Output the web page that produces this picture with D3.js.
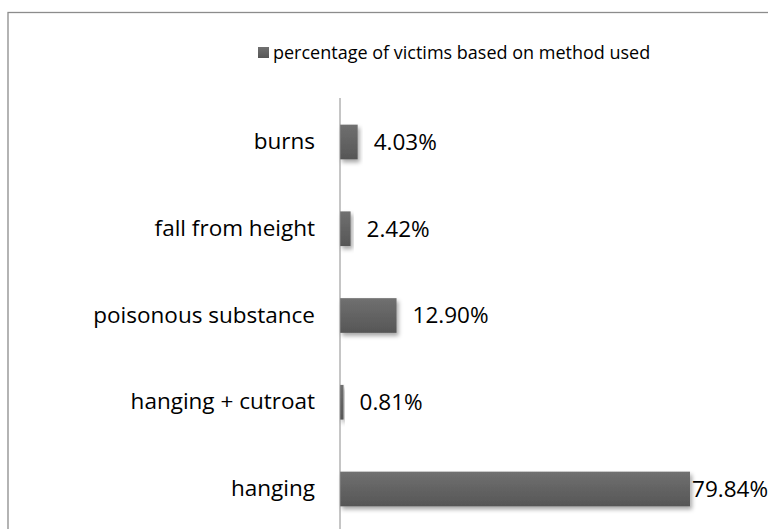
<!DOCTYPE html>
<html>
<head>
<meta charset="utf-8">
<script src="https://cdn.jsdelivr.net/npm/d3@7"></script>
<style>
  body { margin: 0; background: #fff; }
  text { font-family: "Open Sans", sans-serif; fill: #000; }
</style>
</head>
<body>
<svg id="chart" width="768" height="529"></svg>
<script>
// data, top to bottom
var categories = ["burns", "fall from height", "poisonous substance", "hanging + cutroat", "hanging"];
var values = [4.03, 2.42, 12.90, 0.81, 79.84];
var valueLabels = ["4.03%", "2.42%", "12.90%", "0.81%", "79.84%"];
var seriesName = "percentage of victims based on method used";

var width = 768, height = 529;
var svg = d3.select("#chart");

var defs = svg.append("defs");
var grad = defs.append("linearGradient").attr("id", "barGrad")
  .attr("x1", 0).attr("y1", 0).attr("x2", 0).attr("y2", 1);
grad.append("stop").attr("offset", "0%").attr("stop-color", "#707070");
grad.append("stop").attr("offset", "100%").attr("stop-color", "#565656");

var shadow = defs.append("filter").attr("id", "shadow")
  .attr("x", "-20%").attr("y", "-30%").attr("width", "150%").attr("height", "180%");
shadow.append("feDropShadow").attr("dx", 2).attr("dy", 3)
  .attr("stdDeviation", 2).attr("flood-color", "#000").attr("flood-opacity", 0.35);

// chart frame (runs off the right and bottom of the picture)
svg.append("rect")
  .attr("x", 8).attr("y", 12.5)
  .attr("width", 800).attr("height", 560)
  .attr("fill", "none").attr("stroke", "#8c8c8c").attr("stroke-width", 1.3);

var x = d3.scaleLinear().domain([0, 100]).range([340, 778.4]);
var y = d3.scaleBand().domain(categories).range([72.6, 558.4]).padding(0.6);

// legend
var legend = svg.append("g");
legend.append("rect")
  .attr("x", 258).attr("y", 47).attr("width", 11).attr("height", 11)
  .attr("fill", "url(#barGrad)");
legend.append("text")
  .attr("x", 273).attr("y", 53).attr("dy", "0.35em")
  .style("font-size", "18px")
  .text(seriesName);

// bars
svg.selectAll("rect.bar")
  .data(values)
  .enter().append("rect")
  .attr("class", "bar")
  .attr("x", x(0))
  .attr("y", (d, i) => y(categories[i]))
  .attr("width", d => x(d) - x(0))
  .attr("height", y.bandwidth())
  .attr("fill", "url(#barGrad)")
  .attr("filter", "url(#shadow)");

// vertical axis
var yAxis = d3.axisLeft(y).tickSize(0).tickPadding(25);
var gAxis = svg.append("g")
  .attr("transform", `translate(${x(0)},0)`)
  .call(yAxis);
gAxis.select(".domain").remove();
gAxis.selectAll("text")
  .style("font-size", "22.5px")
  .style("font-family", "'Open Sans', sans-serif")
  .attr("fill", "#000");
svg.append("line")
  .attr("x1", x(0)).attr("x2", x(0))
  .attr("y1", 98).attr("y2", height)
  .attr("stroke", "#8c8c8c").attr("stroke-width", 1);

// value labels, pulled back when they would run off the edge
svg.selectAll("text.val")
  .data(values)
  .enter().append("text")
  .attr("class", "val")
  .attr("y", (d, i) => y(categories[i]) + y.bandwidth() / 2)
  .attr("dy", "0.35em")
  .style("font-size", "22.5px")
  .text((d, i) => valueLabels[i])
  .attr("x", function(d) {
    var w = this.getComputedTextLength();
    return Math.max(x(d) + 2, Math.min(x(d) + 16, width - w));
  });
</script>
</body>
</html>
